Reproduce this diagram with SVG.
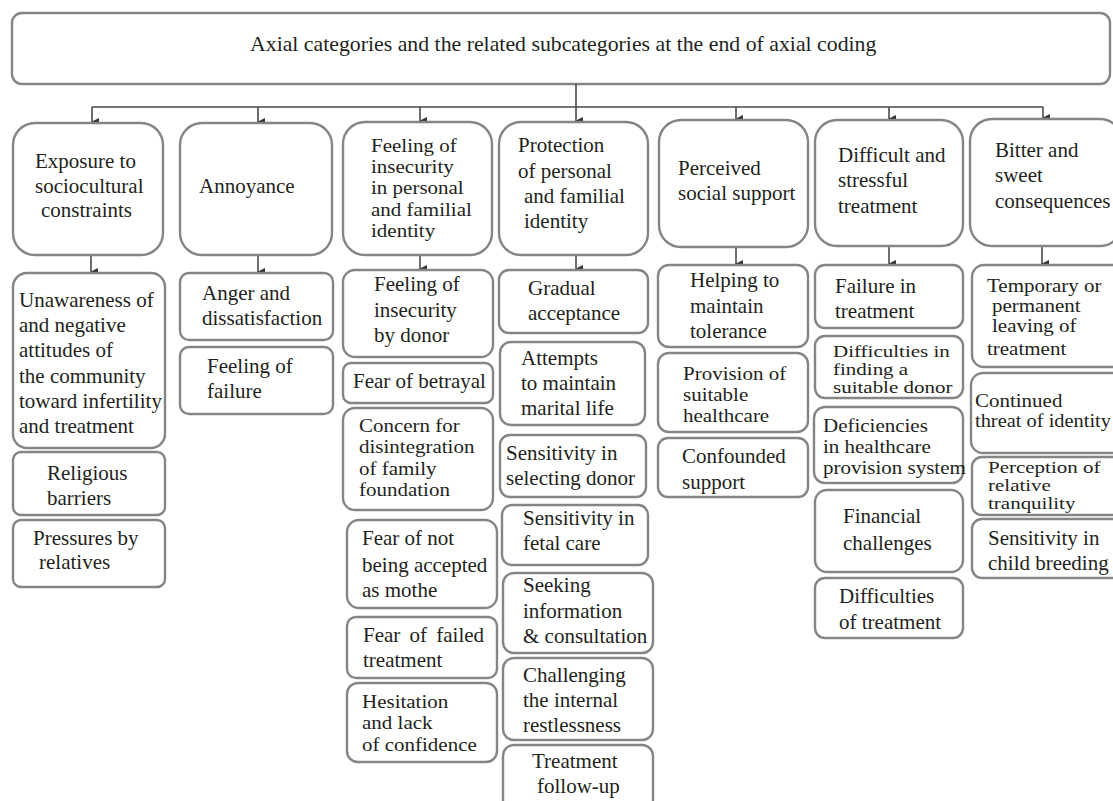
<svg xmlns="http://www.w3.org/2000/svg" width="1113" height="801" viewBox="0 0 1113 801">
<style>
.b{fill:#fff;stroke:#858585;stroke-width:2.4}
.t{font-family:"Liberation Serif","Times New Roman",serif;font-size:21px;fill:#231f20}
.c{stroke:#4a4a4a;stroke-width:1.6;fill:none}
</style>
<defs>
<marker id="ah" markerWidth="8" markerHeight="9" refX="4" refY="8" orient="auto-start-reverse" markerUnits="userSpaceOnUse" viewBox="0 0 8 9">
<path d="M0,1 L8,1 L4,9 Z" fill="#333"/>
</marker>
</defs>
<rect width="1113" height="801" fill="#fff"/>
<g id="title">
<rect class="b" x="12" y="13" width="1098" height="71" rx="10"/>
<text class="t" x="250" y="51" style="font-size:21.8px">Axial categories and the related subcategories at the end of axial coding</text>
</g>
<g id="connectors">
<path class="c" d="M92,107 H1043 M576,84 V107"/>
<path class="c" d="M92,107 V122" marker-end="url(#ah)"/>
<path class="c" d="M258,107 V122" marker-end="url(#ah)"/>
<path class="c" d="M420,107 V121" marker-end="url(#ah)"/>
<path class="c" d="M576,107 V121" marker-end="url(#ah)"/>
<path class="c" d="M736,107 V119" marker-end="url(#ah)"/>
<path class="c" d="M889,107 V119" marker-end="url(#ah)"/>
<path class="c" d="M1043,107 V118" marker-end="url(#ah)"/>
<path class="c" d="M91,256 V272" marker-end="url(#ah)"/>
<path class="c" d="M258,256 V272" marker-end="url(#ah)"/>
<path class="c" d="M420,256 V269" marker-end="url(#ah)"/>
<path class="c" d="M576,256 V269" marker-end="url(#ah)"/>
<path class="c" d="M736,248 V264" marker-end="url(#ah)"/>
<path class="c" d="M889,247 V264" marker-end="url(#ah)"/>
<path class="c" d="M1042,247 V264" marker-end="url(#ah)"/>
</g>
<g id="cat-exposure">
<rect class="b" x="13" y="123" width="150" height="132" rx="22"/>
<text class="t"><tspan x="35" y="168">Exposure to</tspan><tspan x="35" y="193">sociocultural</tspan><tspan x="41" y="217">constraints</tspan></text>
</g>
<g id="cat-annoyance">
<rect class="b" x="180" y="123" width="152" height="132" rx="22"/>
<text class="t" x="199" y="193">Annoyance</text>
</g>
<g id="cat-insecurity">
<rect class="b" x="343" y="122" width="149" height="133" rx="22"/>
<text class="t" transform="matrix(1,0,0,0.9,0,15.2)"><tspan x="371" y="152">Feeling of</tspan><tspan x="371" y="175.61">insecurity</tspan><tspan x="371" y="199.22">in personal</tspan><tspan x="371" y="222.83">and familial</tspan><tspan x="371" y="246.44">identity</tspan></text>
</g>
<g id="cat-protection">
<rect class="b" x="499" y="122" width="149" height="133" rx="22"/>
<text class="t"><tspan x="518" y="152">Protection</tspan><tspan x="518" y="178">of personal</tspan><tspan x="524" y="203">and familial</tspan><tspan x="524" y="228">identity</tspan></text>
</g>
<g id="cat-perceived">
<rect class="b" x="659" y="120" width="149" height="127" rx="22"/>
<text class="t"><tspan x="678" y="175">Perceived</tspan><tspan x="678" y="200">social support</tspan></text>
</g>
<g id="cat-difficult">
<rect class="b" x="815" y="120" width="148" height="126" rx="22"/>
<text class="t"><tspan x="838" y="162">Difficult and</tspan><tspan x="838" y="187">stressful</tspan><tspan x="838" y="213">treatment</tspan></text>
</g>
<g id="cat-bitter">
<rect class="b" x="970" y="119" width="152" height="127" rx="22"/>
<text class="t"><tspan x="995" y="157">Bitter and</tspan><tspan x="995" y="182">sweet</tspan><tspan x="995" y="208">consequences</tspan></text>
</g>
<g id="s-unawareness">
<rect class="b" x="13" y="273" width="152" height="175" rx="14"/>
<text class="t"><tspan x="19" y="307">Unawareness of</tspan><tspan x="19" y="332">and negative</tspan><tspan x="19" y="357">attitudes of</tspan><tspan x="19" y="383">the community</tspan><tspan x="19" y="408">toward infertility</tspan><tspan x="19" y="433">and treatment</tspan></text>
</g>
<g id="s-religious">
<rect class="b" x="13" y="452" width="152" height="63" rx="8"/>
<text class="t"><tspan x="47" y="480">Religious</tspan><tspan x="47" y="505">barriers</tspan></text>
</g>
<g id="s-pressures">
<rect class="b" x="13" y="520" width="152" height="67" rx="8"/>
<text class="t"><tspan x="33" y="545">Pressures by</tspan><tspan x="39" y="569">relatives</tspan></text>
</g>
<g id="s-anger">
<rect class="b" x="180" y="273" width="153" height="67" rx="9"/>
<text class="t"><tspan x="202" y="300">Anger and</tspan><tspan x="202" y="325">dissatisfaction</tspan></text>
</g>
<g id="s-failure">
<rect class="b" x="180" y="347" width="153" height="67" rx="9"/>
<text class="t"><tspan x="207" y="373">Feeling of</tspan><tspan x="207" y="398">failure</tspan></text>
</g>
<g id="s-insecurity-donor">
<rect class="b" x="343" y="270" width="150" height="87" rx="12"/>
<text class="t"><tspan x="374" y="291">Feeling of</tspan><tspan x="374" y="317">insecurity</tspan><tspan x="374" y="342">by donor</tspan></text>
</g>
<g id="s-betrayal">
<rect class="b" x="343" y="363" width="150" height="40" rx="8"/>
<text class="t" x="353" y="388">Fear of betrayal</text>
</g>
<g id="s-concern">
<rect class="b" x="343" y="408" width="150" height="102" rx="12"/>
<text class="t" transform="matrix(1,0,0,0.88,0,51.84)"><tspan x="359" y="432">Concern for</tspan><tspan x="359" y="456.24">disintegration</tspan><tspan x="359" y="480.48">of family</tspan><tspan x="359" y="504.73">foundation</tspan></text>
</g>
<g id="s-mother">
<rect class="b" x="347" y="520" width="150" height="88" rx="12"/>
<text class="t"><tspan x="362" y="545">Fear of not</tspan><tspan x="362" y="572">being accepted</tspan><tspan x="362" y="597">as mothe</tspan></text>
</g>
<g id="s-failed">
<rect class="b" x="347" y="617" width="150" height="61" rx="9"/>
<text class="t"><tspan x="363" y="642" word-spacing="4">Fear of failed</tspan><tspan x="363" y="667">treatment</tspan></text>
</g>
<g id="s-hesitation">
<rect class="b" x="347" y="683" width="150" height="79" rx="11"/>
<text class="t" transform="matrix(1,0,0,0.9,0,70.8)"><tspan x="362" y="708">Hesitation</tspan><tspan x="362" y="731.89">and lack</tspan><tspan x="362" y="755.78">of confidence</tspan></text>
</g>
<g id="s-gradual">
<rect class="b" x="499" y="270" width="149" height="63" rx="10"/>
<text class="t"><tspan x="528" y="295">Gradual</tspan><tspan x="528" y="320">acceptance</tspan></text>
</g>
<g id="s-attempts">
<rect class="b" x="500" y="342" width="145" height="83" rx="11"/>
<text class="t"><tspan x="521" y="365">Attempts</tspan><tspan x="521" y="390">to maintain</tspan><tspan x="521" y="415">marital life</tspan></text>
</g>
<g id="s-selecting">
<rect class="b" x="500" y="435" width="146" height="62" rx="10"/>
<text class="t"><tspan x="506" y="460">Sensitivity in</tspan><tspan x="506" y="485">selecting donor</tspan></text>
</g>
<g id="s-fetal">
<rect class="b" x="502" y="505" width="146" height="60" rx="10"/>
<text class="t"><tspan x="523" y="525">Sensitivity in</tspan><tspan x="523" y="550">fetal care</tspan></text>
</g>
<g id="s-seeking">
<rect class="b" x="503" y="573" width="150" height="80" rx="11"/>
<text class="t"><tspan x="523" y="592">Seeking</tspan><tspan x="523" y="618">information</tspan><tspan x="523" y="643">&amp; consultation</tspan></text>
</g>
<g id="s-challenging">
<rect class="b" x="503" y="658" width="150" height="82" rx="11"/>
<text class="t"><tspan x="523" y="682">Challenging</tspan><tspan x="523" y="707">the internal</tspan><tspan x="523" y="732">restlessness</tspan></text>
</g>
<g id="s-followup">
<rect class="b" x="503" y="745" width="150" height="66" rx="11"/>
<text class="t"><tspan x="532" y="768">Treatment</tspan><tspan x="537" y="793">follow-up</tspan></text>
</g>
<g id="s-helping">
<rect class="b" x="658" y="265" width="150" height="82" rx="11"/>
<text class="t"><tspan x="690" y="287">Helping to</tspan><tspan x="690" y="313">maintain</tspan><tspan x="690" y="338">tolerance</tspan></text>
</g>
<g id="s-provision">
<rect class="b" x="658" y="353" width="150" height="79" rx="11"/>
<text class="t" transform="matrix(1,0,0,0.88,0,45.6)"><tspan x="683" y="380">Provision of</tspan><tspan x="683" y="403.86">suitable</tspan><tspan x="683" y="427.73">healthcare</tspan></text>
</g>
<g id="s-confounded">
<rect class="b" x="658" y="438" width="150" height="59" rx="10"/>
<text class="t"><tspan x="682" y="463">Confounded</tspan><tspan x="682" y="489">support</tspan></text>
</g>
<g id="s-failure-treatment">
<rect class="b" x="815" y="265" width="148" height="63" rx="10"/>
<text class="t"><tspan x="835" y="293">Failure in</tspan><tspan x="835" y="318">treatment</tspan></text>
</g>
<g id="s-finding-donor">
<rect class="b" x="815" y="336" width="148" height="62" rx="10"/>
<text class="t" transform="matrix(1,0,0,0.76,0,85.68)"><tspan x="833" y="357">Difficulties in</tspan><tspan x="833" y="380.68">finding a</tspan><tspan x="833" y="404.37">suitable donor</tspan></text>
</g>
<g id="s-deficiencies">
<rect class="b" x="814" y="407" width="149" height="76" rx="11"/>
<text class="t" transform="matrix(1,0,0,0.88,0,51.84)"><tspan x="823" y="432">Deficiencies</tspan><tspan x="823" y="455.86">in healthcare</tspan><tspan x="823" y="479.73">provision system</tspan></text>
</g>
<g id="s-financial">
<rect class="b" x="815" y="490" width="148" height="82" rx="12"/>
<text class="t"><tspan x="843" y="523">Financial</tspan><tspan x="843" y="550">challenges</tspan></text>
</g>
<g id="s-difficulties-treatment">
<rect class="b" x="815" y="578" width="148" height="60" rx="10"/>
<text class="t"><tspan x="839" y="603">Difficulties</tspan><tspan x="839" y="629">of treatment</tspan></text>
</g>
<g id="s-temporary">
<rect class="b" x="972" y="265" width="152" height="102" rx="12"/>
<text class="t" transform="matrix(1,0,0,0.85,0,43.8)"><tspan x="987" y="292">Temporary or</tspan><tspan x="992" y="315.53">permanent</tspan><tspan x="992" y="339.06">leaving of</tspan><tspan x="987" y="366.12">treatment</tspan></text>
</g>
<g id="s-continued">
<rect class="b" x="971" y="373" width="153" height="80" rx="12"/>
<text class="t" transform="matrix(1,0,0,0.85,0,61.05)"><tspan x="975" y="407">Continued</tspan><tspan x="975" y="430.53" textLength="136" lengthAdjust="spacingAndGlyphs">threat of identity</tspan></text>
</g>
<g id="s-perception">
<rect class="b" x="972" y="457" width="152" height="58" rx="10"/>
<text class="t" transform="matrix(1,0,0,0.76,0,113.52)"><tspan x="988" y="473">Perception of</tspan><tspan x="988" y="496.68">relative</tspan><tspan x="988" y="520.37">tranquility</tspan></text>
</g>
<g id="s-child">
<rect class="b" x="972" y="519" width="152" height="59" rx="10"/>
<text class="t"><tspan x="988" y="545">Sensitivity in</tspan><tspan x="988" y="570">child breeding</tspan></text>
</g>
</svg>
